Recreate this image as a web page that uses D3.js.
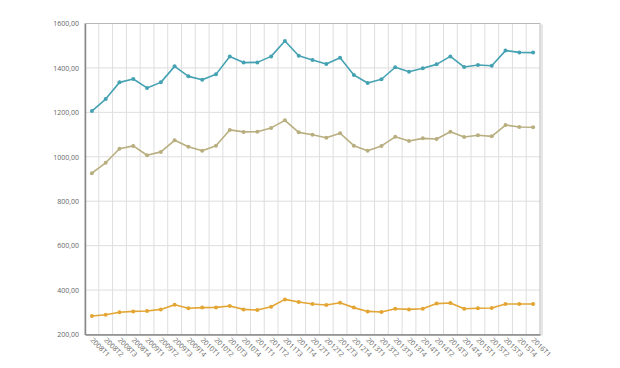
<!DOCTYPE html>
<html><head><meta charset="utf-8">
<script src="https://cdn.jsdelivr.net/npm/d3@7"></script>
<style>body{margin:0;background:#fff;}svg{display:block;font-family:"Open Sans",sans-serif;}</style>
</head><body><svg id="c" width="620" height="368"></svg>
<script>
const categories = [];
const years = [2008,2009,2010,2011,2012,2013,2014,2015];
years.forEach(y => [1,2,3,4].forEach(q => categories.push(y + "T" + q)));
categories.push("2016T1");
const seriesTeal = [1206,1260,1335,1350,1310,1335,1407,1362,1347,1371,1451,1424,1425,1452,1521,1455,1436,1418,1446,1368,1332,1349,1403,1383,1399,1416,1452,1404,1413,1410,1478,1470,1469];
const seriesTan = [926,973,1036,1049,1007,1022,1074,1045,1027,1050,1121,1112,1113,1130,1164,1110,1099,1086,1106,1050,1027,1049,1090,1071,1083,1080,1113,1089,1097,1092,1143,1134,1133];
const seriesOrange = [283,289,300,304,306,313,334,318,321,322,328,313,310,325,358,346,337,333,343,321,304,301,316,313,316,339,342,316,318,319,337,337,337];
const yTicks = [200,400,600,800,1000,1200,1400,1600];

const svg = d3.select("#c");
const L = 85, R = 540, T = 23.5, B = 334.5;
const x = d3.scaleBand().domain(categories).range([L, R]);
const y = d3.scaleLinear().domain([200,1600]).range([B, T]);

const g = svg.append("g");
g.selectAll("line.v").data(categories.slice(1)).enter().append("line")
  .attr("x1", d => x(d)).attr("x2", d => x(d)).attr("y1", T).attr("y2", B)
  .attr("stroke", "#dedede").attr("stroke-width", 1);
g.selectAll("line.h").data(yTicks.slice(1,-1)).enter().append("line")
  .attr("x1", L).attr("x2", R).attr("y1", d => y(d)).attr("y2", d => y(d))
  .attr("stroke", "#dedede").attr("stroke-width", 1);
svg.append("rect").attr("x", R+1).attr("y", T+1).attr("width", 2).attr("height", B-T).attr("fill", "#e6e6e6");
svg.append("rect").attr("x", L).attr("y", T).attr("width", R-L).attr("height", B-T)
  .attr("fill", "none").attr("stroke", "#b8b8b8").attr("stroke-width", 1);

const ya = svg.append("g").attr("transform", `translate(${L},0)`)
  .call(d3.axisLeft(y).tickValues(yTicks).tickSize(0).tickPadding(6)
    .tickFormat(d => d3.format(".2f")(d).replace(".", ",")));
ya.select(".domain").attr("stroke", "#888").attr("stroke-width", 1.5);
ya.selectAll("text").attr("fill", null).style("fill", "#666").style("font-size", "7px").style("font-family", "Open Sans");

const xa = svg.append("g").attr("transform", `translate(0,${B})`)
  .call(d3.axisBottom(x).tickSize(0).tickPadding(0));
xa.select(".domain").attr("stroke", "#888").attr("stroke-width", 1.5);
xa.selectAll("text").attr("fill", null).style("fill", "#666").style("font-size", "7px").style("font-family", "Open Sans")
  .attr("text-anchor", "start").attr("dy", null).attr("y", 0)
  .attr("transform", "translate(-2,6) rotate(45)");

const cx = d => x(d) + x.bandwidth()/2;
const series = [
  {vals: seriesTeal, color: "#45a2b3"},
  {vals: seriesTan, color: "#b9ae7f"},
  {vals: seriesOrange, color: "#e3a534"}
];
const line = d3.line().x((d,i) => cx(categories[i])).y(d => y(d));
series.forEach(s => {
  svg.append("path").datum(s.vals).attr("d", line).attr("fill", "none")
    .attr("stroke", s.color).attr("stroke-width", 1.6).attr("stroke-linejoin", "round");
  svg.append("g").selectAll("circle").data(s.vals).enter().append("circle")
    .attr("cx", (d,i) => cx(categories[i])).attr("cy", d => y(d)).attr("r", 2)
    .attr("fill", s.color);
});
</script></body></html>
